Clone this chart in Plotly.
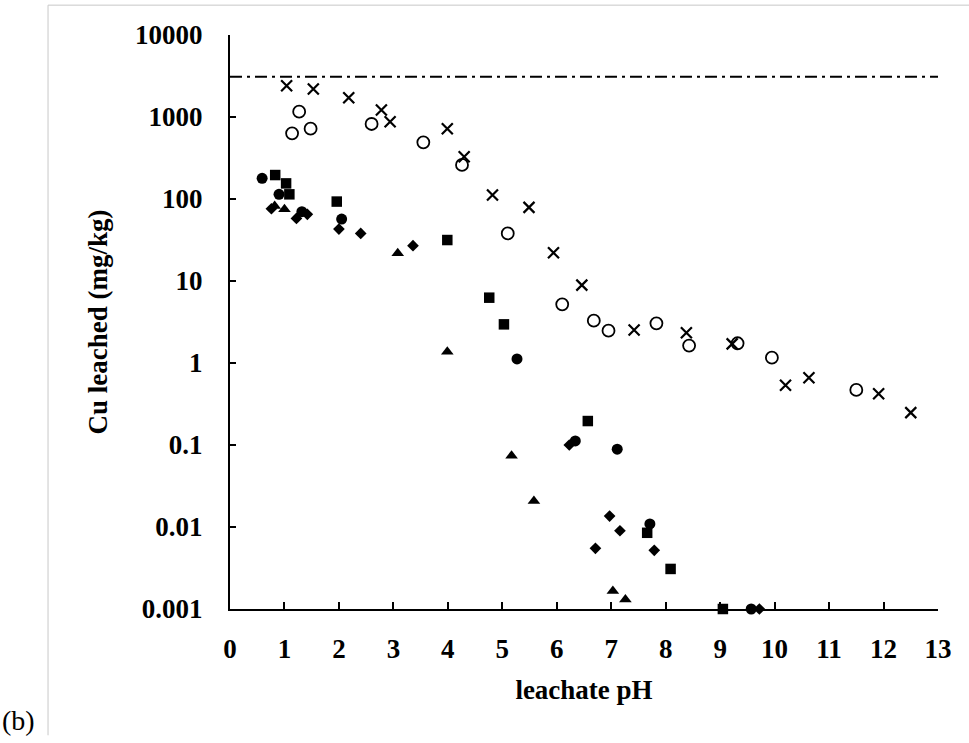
import plotly.graph_objects as go

# ---- data (pH, Cu leached mg/kg) ----
circ_x = [0.59, 0.90, 1.32, 2.05, 5.27, 6.34, 7.11, 7.71, 9.57]
circ_y = [179, 114, 70, 57, 1.12, 0.112, 0.089, 0.0109, 0.001]

sq_x = [0.83, 1.03, 1.09, 1.96, 3.99, 4.76, 5.03, 6.57, 7.66, 8.09, 9.05]
sq_y = [196, 155, 114, 93, 31.6, 6.26, 2.96, 0.196, 0.0085, 0.00308, 0.001]

tri_x = [0.82, 1.00, 3.08, 3.99, 5.17, 5.58, 7.03, 7.26]
tri_y = [82, 75, 21.8, 1.37, 0.074, 0.0207, 0.00166, 0.00131]

dia_x = [0.76, 1.22, 1.42, 2.00, 2.40, 3.36, 6.23, 6.97, 7.16, 6.71, 7.79, 9.72]
dia_y = [76, 58, 65, 43, 38, 27, 0.1, 0.0136, 0.0090, 0.0055, 0.0052, 0.001]

open_x = [1.27, 1.14, 1.48, 2.60, 3.55, 4.26, 5.10, 6.10, 6.68, 6.95, 7.83, 8.43, 9.32, 9.95, 11.50]
open_y = [1161, 633, 720, 822, 491, 260, 38, 5.2, 3.28, 2.48, 3.05, 1.63, 1.74, 1.16, 0.469]

x_x = [1.04, 1.53, 2.18, 2.78, 2.94, 3.99, 4.30, 4.82, 5.49, 5.94, 6.46, 7.42, 8.38, 9.22, 10.20, 10.63, 11.91, 12.50]
x_y = [2410, 2195, 1720, 1217, 877, 720, 328, 112, 79, 22.1, 8.9, 2.53, 2.34, 1.71, 0.535, 0.662, 0.422, 0.248]

ref_x = [0, 13]
ref_y = [3100, 3100]

y_ticks = [0.001, 0.01, 0.1, 1, 10, 100, 1000, 10000]
y_ticktext = ["0.001", "0.01", "0.1", "1", "10", "100", "1000", "10000"]
x_ticks = list(range(0, 14))

FONT = "Liberation Serif"

fig = go.Figure()

fig.add_trace(go.Scatter(x=ref_x, y=ref_y, mode="lines",
                         line=dict(color="black", width=2, dash="12px,5px,3px,5px"),
                         showlegend=False, hoverinfo="skip"))

def add(xs, ys, symbol, size, filled=True, lw=0):
    if filled:
        m = dict(symbol=symbol, size=size, color="black", line=dict(width=0))
    else:
        m = dict(symbol=symbol, size=size, color="black", line=dict(color="black", width=lw))
    fig.add_trace(go.Scatter(x=xs, y=ys, mode="markers", marker=m,
                             cliponaxis=False, showlegend=False))

add(open_x, open_y, "circle-open", 12, filled=False, lw=1.8)
add(x_x, x_y, "x-thin-open", 11, filled=False, lw=2.2)
add(circ_x, circ_y, "circle", 11)
add(sq_x, sq_y, "square", 10.5)
add(tri_x, tri_y, "triangle-up", 11)
add(dia_x, dia_y, "diamond", 9)

fig.update_layout(
    width=969, height=743,
    margin=dict(l=230, r=31, t=35, b=134),
    paper_bgcolor="white", plot_bgcolor="white",
    font=dict(family=FONT, color="black"),
    xaxis=dict(range=[0, 13], tickvals=x_ticks, ticks="inside", ticklen=7, tickwidth=1.5,
               tickcolor="black", showline=True, linecolor="black", linewidth=2,
               showgrid=False, zeroline=False,
               tickfont=dict(family=FONT, size=27, color="black", weight="bold"),
               ticklabelstandoff=15,
               title=dict(text="<b>leachate pH</b>", font=dict(family=FONT, size=27), standoff=17)),
    yaxis=dict(type="log", range=[-3, 4], tickvals=y_ticks, ticktext=y_ticktext,
               ticks="inside", ticklen=6, tickwidth=1.5, tickcolor="black",
               showline=True, linecolor="black", linewidth=2,
               showgrid=False, zeroline=False,
               tickfont=dict(family=FONT, size=27, color="black", weight="bold"),
               ticklabelstandoff=20,
               title=dict(text="<b>Cu leached (mg/kg)</b>", font=dict(family=FONT, size=27), standoff=20)),
    shapes=[
        dict(type="line", xref="paper", yref="paper", x0=-0.257, x1=-0.257, y0=-0.22, y1=1.052,
             line=dict(color="#c8c8c8", width=1)),
        dict(type="line", xref="paper", yref="paper", x0=-0.257, x1=1.05, y0=1.052, y1=1.052,
             line=dict(color="#c8c8c8", width=1)),
    ],
    annotations=[
        dict(text="(b)", xref="paper", yref="paper", x=-0.325, y=-0.195, xanchor="left",
             yanchor="middle", showarrow=False, font=dict(family=FONT, size=28, color="black")),
    ],
)

fig.write_html("out.html")
